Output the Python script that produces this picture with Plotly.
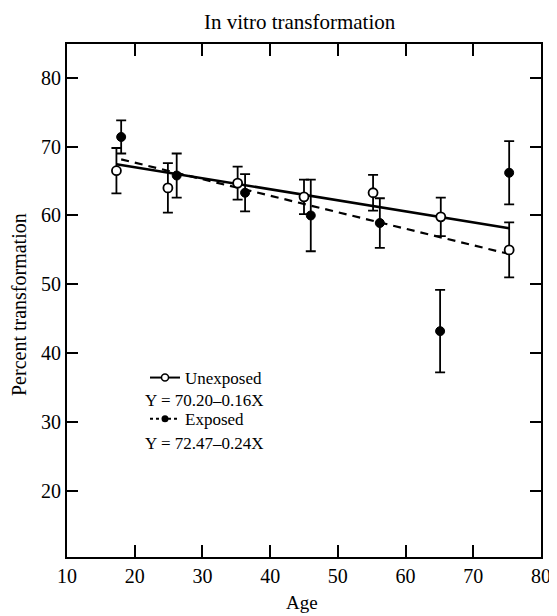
import plotly.graph_objects as go

# ---- data ----
unexp_age = [17.3, 24.9, 35.2, 45.0, 55.2, 65.2, 75.3]
unexp_pct = [66.5, 64.0, 64.7, 62.7, 63.3, 59.8, 55.0]
unexp_err = [3.3, 3.6, 2.4, 2.5, 2.6, 2.8, 4.0]

exp_age = [18.0, 26.2, 36.3, 46.0, 56.2, 65.1, 75.3]
exp_pct = [71.4, 65.8, 63.3, 60.0, 58.9, 43.2, 66.2]
exp_err = [2.4, 3.2, 2.7, 5.2, 3.6, 6.0, 4.6]

unexp_fit = (70.20, -0.16)
exp_fit = (72.47, -0.24)

x_ticks = [10, 20, 30, 40, 50, 60, 70, 80]
y_ticks = [20, 30, 40, 50, 60, 70, 80]

FONT = "Liberation Serif"
OFF = 8  # page body margin in the browser
W, H = 557 - OFF, 616 - OFF
# plot frame in screen pixels: left 67, right 541, top 44, bottom 557
ML, MT = 67 - OFF, 44 - OFF
MR = W - (541 - OFF)
MB = H - (557 - OFF)
PW, PH = W - ML - MR, H - MT - MB

def px_x(p):  # screen px -> paper
    return (p - OFF - ML) / PW

def px_y(p):
    return (H - MB - (p - OFF)) / PH

fig = go.Figure()

def fit_line(ages, coef):
    xs = [min(ages), max(ages)]
    return xs, [coef[0] + coef[1] * v for v in xs]

ux, uy = fit_line(unexp_age, unexp_fit)
ex, ey = fit_line(exp_age, exp_fit)

fig.add_trace(go.Scatter(x=ux, y=uy, mode="lines",
                         line=dict(color="black", width=2.6), showlegend=False))
fig.add_trace(go.Scatter(x=ex, y=ey, mode="lines",
                         line=dict(color="black", width=2.2, dash="8px,6px"), showlegend=False))

fig.add_trace(go.Scatter(
    x=unexp_age, y=unexp_pct, mode="markers", showlegend=False,
    marker=dict(symbol="circle", size=9, color="white", line=dict(color="black", width=1.8)),
    error_y=dict(type="data", array=unexp_err, color="black", thickness=1.8, width=5)))
fig.add_trace(go.Scatter(
    x=exp_age, y=exp_pct, mode="markers", showlegend=False,
    marker=dict(symbol="circle", size=9, color="black", line=dict(color="black", width=1)),
    error_y=dict(type="data", array=exp_err, color="black", thickness=1.8, width=5)))

# legend entries
fig.add_trace(go.Scatter(x=[None], y=[None], mode="lines+markers",
                         name="Unexposed", legendgroup="u",
                         line=dict(color="black", width=2),
                         marker=dict(symbol="circle", size=7, color="white",
                                     line=dict(color="black", width=1.5))))
fig.add_trace(go.Scatter(x=[None], y=[None], mode="lines+markers",
                         name="Exposed", legendgroup="e",
                         line=dict(color="black", width=2, dash="3px,3px"),
                         marker=dict(symbol="circle", size=7, color="black")))

axis_common = dict(showline=True, linecolor="black", linewidth=2, mirror="ticks",
                   ticks="inside", tickcolor="black", tickwidth=1.5, showgrid=False,
                   zeroline=False, automargin=False,
                   tickfont=dict(family=FONT, size=20, color="black"))

fig.update_xaxes(range=[10, 80], tickvals=x_ticks, ticklen=12, **axis_common)
fig.update_yaxes(range=[10.4, 84.9], tickvals=y_ticks, ticklen=11, **axis_common)

eq_font = dict(family=FONT, size=17, color="black")
annotations = [
    dict(text="In vitro transformation", x=px_x(300), y=px_y(22), xref="paper", yref="paper",
         xanchor="center", yanchor="middle", showarrow=False,
         font=dict(family=FONT, size=21, color="black")),
    dict(text="Age", x=px_x(302), y=px_y(602), xref="paper", yref="paper",
         xanchor="center", yanchor="middle", showarrow=False,
         font=dict(family=FONT, size=19, color="black")),
    dict(text="Percent transformation", x=px_x(19), y=px_y(305), xref="paper", yref="paper",
         xanchor="center", yanchor="middle", showarrow=False, textangle=-90,
         font=dict(family=FONT, size=20, color="black")),
    dict(text="Y = 70.20–0.16X", x=px_x(143), y=px_y(400), xref="paper", yref="paper",
         xanchor="left", yanchor="middle", showarrow=False, font=eq_font),
    dict(text="Y = 72.47–0.24X", x=px_x(143), y=px_y(443), xref="paper", yref="paper",
         xanchor="left", yanchor="middle", showarrow=False, font=eq_font),
]

fig.update_layout(
    width=W, height=H,
    margin=dict(l=ML, r=MR, t=MT, b=MB),
    plot_bgcolor="white", paper_bgcolor="white",
    font=dict(family=FONT, color="black"),
    annotations=annotations,
    legend=dict(x=px_x(145), y=px_y(360), xanchor="left", yanchor="top", valign="middle",
                bgcolor="rgba(0,0,0,0)", font=dict(family=FONT, size=17, color="black"),
                itemwidth=30, tracegroupgap=16),
)

fig.write_html("out.html")
